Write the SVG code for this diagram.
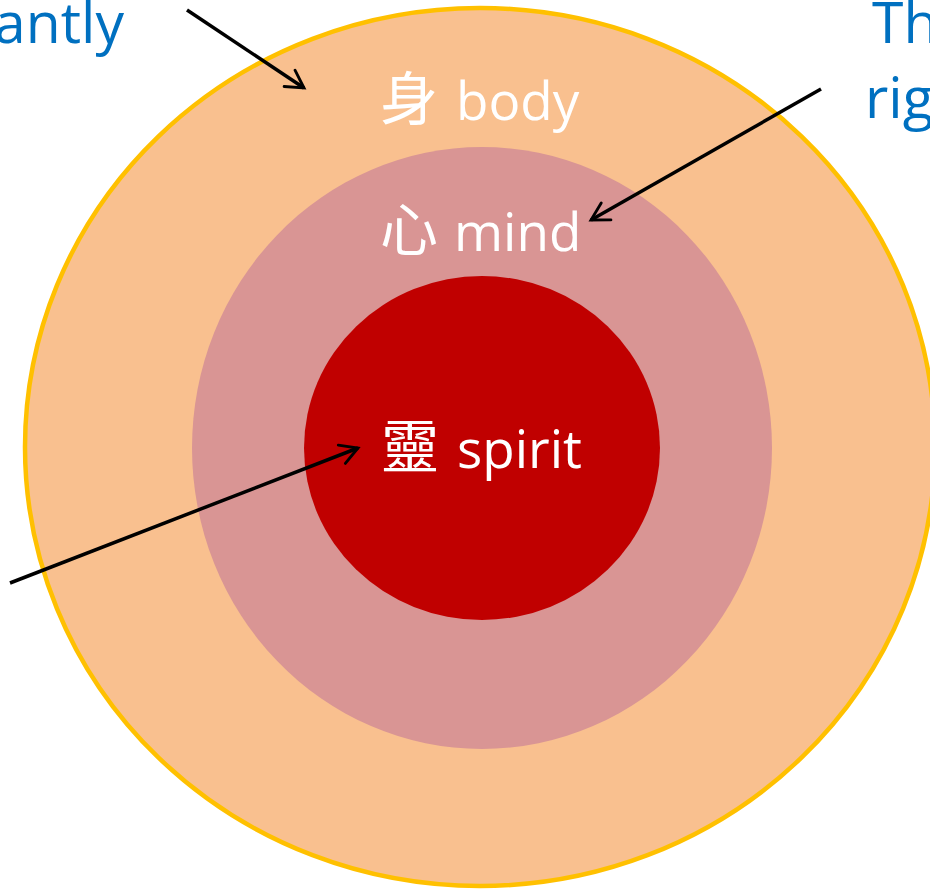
<svg xmlns="http://www.w3.org/2000/svg" width="930" height="889" viewBox="0 0 930 889">
<defs>
<style>
.lbl{fill:#FFFFFF;font-family:"Open Sans","Noto Sans CJK TC","Noto Sans CJK SC",sans-serif;font-size:53px}
.cjk{font-family:"Noto Sans CJK TC","Noto Sans CJK SC",sans-serif;font-size:58px}
.blue{fill:#0070C0;font-family:"Open Sans","Noto Sans",sans-serif;font-size:57px}
.conn{stroke:#000000;stroke-width:3.5;fill:none;marker-end:url(#open)}
</style>
<marker id="open" viewBox="0 0 12 12" refX="10.5" refY="6" markerWidth="7" markerHeight="7" orient="auto" markerUnits="strokeWidth">
<polyline points="2,1.2 10.5,6 2,10.8" fill="none" stroke="#000000" stroke-width="1.4" stroke-linecap="round" stroke-linejoin="miter"/>
</marker>
</defs>
<rect width="930" height="889" fill="#FFFFFF"/>
<g id="body">
<ellipse cx="480" cy="447" rx="455" ry="439" fill="#F9C08F" stroke="#FFC000" stroke-width="4.5"/>
<text class="lbl" y="120"><tspan class="cjk" x="380">身</tspan><tspan x="456">body</tspan></text>
</g>
<g id="mind">
<ellipse cx="482" cy="448" rx="290" ry="301" fill="#D99594"/>
<text class="lbl" y="251"><tspan class="cjk" x="380">心</tspan><tspan x="454">mind</tspan></text>
</g>
<g id="spirit">
<ellipse cx="482" cy="448" rx="178" ry="172" fill="#C00000"/>
<text class="lbl" y="468"><tspan class="cjk" x="381">靈</tspan><tspan x="457">spirit</tspan></text>
</g>
<g id="note-left">
<text class="blue" x="124" y="43" text-anchor="end">antly</text>
</g>
<g id="note-right">
<text class="blue" x="872" y="43">Th</text>
<text class="blue" x="865" y="118">rig</text>
</g>
<g id="connectors">
<line class="conn" x1="187" y1="10" x2="304" y2="88"/>
<line class="conn" x1="821" y1="89" x2="591" y2="220"/>
<line class="conn" x1="10" y1="583" x2="358" y2="448"/>
</g>
</svg>
